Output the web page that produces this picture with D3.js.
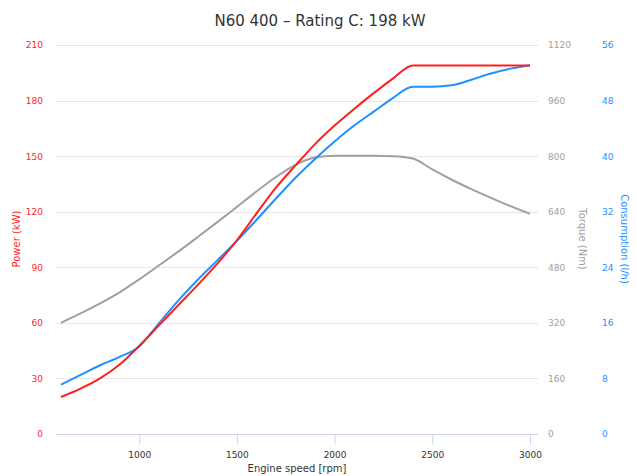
<!DOCTYPE html>
<meta charset="utf-8">
<style>
  body { margin: 0; background: #fff; }
  svg { font-family: "DejaVu Sans", sans-serif; }
  .grid line { stroke: #e6e6e6; stroke-width: 1; }
  .curve { fill: none; stroke-width: 2; }
</style>
<body>
<script src="https://d3js.org/d3.v7.min.js"></script>
<script>

// engine speed (rpm) and the three series
var rpm = [600, 700, 800, 900, 1000, 1100, 1200, 1300, 1400, 1500, 1600, 1700, 1800,
           1900, 2000, 2100, 2200, 2300, 2400, 2500, 2600, 2700, 2800, 2900, 3000];
var power = [20, 24.5, 30, 37.5, 47.5, 58.5, 69.5, 80.5, 92, 104.5, 119, 133, 145,
             156.5, 166.5, 175.5, 184, 192, 199, 199, 199, 199, 199, 199, 199];
var torque = [320, 347, 376, 408, 445, 485, 525, 567, 610, 654, 698, 740, 775,
              796, 801, 801, 801, 800, 793, 762, 732, 705, 680, 656, 634];
var consumption = [7.1, 8.5, 9.9, 11.1, 12.6, 15.9, 19.2, 22.2, 25.0, 27.8, 30.8, 33.9, 36.9,
                   39.6, 42.1, 44.4, 46.4, 48.4, 50.0, 50.0, 50.2, 51.0, 51.9, 52.6, 53.1];

var xTicks = [1000, 1500, 2000, 2500, 3000];
var powerTicks = [0, 30, 60, 90, 120, 150, 180, 210];
var torqueTicks = [0, 160, 320, 480, 640, 800, 960, 1120];
var consTicks = [0, 8, 16, 24, 32, 40, 48, 56];

var width = 637, height = 476;
var plot = {left: 56, right: 538, top: 45, bottom: 434};

var red = "#ff1f1f", blue = "#1e90ff", grey = "#a0a0a0";

var svg = d3.select("body").append("svg")
    .attr("width", width)
    .attr("height", height);

var x = d3.scaleLinear().domain([600, 3000]).range([61, 530]);
var yP = d3.scaleLinear().domain([0, 210]).range([plot.bottom, plot.top]);
var yT = d3.scaleLinear().domain([0, 1120]).range([plot.bottom, plot.top]);
var yC = d3.scaleLinear().domain([0, 56]).range([plot.bottom, plot.top]);

// title
svg.append("text")
    .attr("x", 320)
    .attr("y", 26)
    .attr("text-anchor", "middle")
    .style("font-size", "15px")
    .style("fill", "#333")
    .text("N60 400 \u2013 Rating C: 198 kW");

// horizontal grid
svg.append("g")
    .attr("class", "grid")
    .selectAll("line")
    .data(powerTicks.slice(1))
    .enter().append("line")
    .attr("x1", plot.left)
    .attr("x2", plot.right)
    .attr("y1", function(d) { return Math.round(yP(d)) + 0.5; })
    .attr("y2", function(d) { return Math.round(yP(d)) + 0.5; });

// x axis
var xAxis = svg.append("g")
    .attr("transform", "translate(0," + (plot.bottom + 0.5) + ")")
    .call(d3.axisBottom(x).tickValues(xTicks).tickFormat(d3.format("d"))
      .tickSize(10).tickPadding(7));
xAxis.select(".domain").remove();
xAxis.insert("line", ":first-child")
    .attr("x1", plot.left).attr("x2", plot.right)
    .attr("stroke", "#ccd6eb");
xAxis.selectAll(".tick line").attr("stroke", "#ccd6eb");
xAxis.selectAll(".tick text")
    .style("font-size", "9px")
    .style("font-family", "DejaVu Sans")
    .style("fill", "#333");

svg.append("text")
    .attr("x", 297)
    .attr("y", 472)
    .attr("text-anchor", "middle")
    .style("font-size", "10px")
    .style("fill", "#333")
    .text("Engine speed [rpm]");

// left / right value axes
function valueAxis(axis, xpos, color, anchor) {
  var g = svg.append("g")
      .attr("transform", "translate(" + xpos + ",0)")
      .call(axis.tickFormat(d3.format("d")).tickSize(0).tickPadding(0));
  g.select(".domain").remove();
  g.selectAll(".tick text")
      .attr("text-anchor", anchor)
      .style("font-size", "9px")
      .style("font-family", "DejaVu Sans")
      .style("fill", color);
  return g;
}

valueAxis(d3.axisLeft(yP).tickValues(powerTicks), 43, red, "end");
valueAxis(d3.axisRight(yT).tickValues(torqueTicks), 548, grey, "start");
valueAxis(d3.axisRight(yC).tickValues(consTicks), 602, blue, "start");

// axis titles
function axisTitle(label, xpos, angle, color) {
  svg.append("text")
      .attr("transform", "translate(" + xpos + ",239) rotate(" + angle + ")")
      .attr("text-anchor", "middle")
      .attr("dy", "0.35em")
      .style("font-size", "10px")
      .style("fill", color)
      .text(label);
}
axisTitle("Power (kW)", 16, -90, red);
axisTitle("Torque (Nm)", 582, 90, grey);
axisTitle("Consumption (l/h)", 624, 90, blue);

// curves
function drawCurve(values, y, color) {
  var line = d3.line()
      .x(function(d, i) { return x(rpm[i]); })
      .y(function(d) { return y(d); })
      .curve(d3.curveMonotoneX);
  svg.append("path")
      .datum(values)
      .attr("class", "curve")
      .attr("stroke", color)
      .attr("d", line);
}

drawCurve(torque, yT, grey);
drawCurve(consumption, yC, blue);
drawCurve(power, yP, red);

</script>
</body>
</html>
